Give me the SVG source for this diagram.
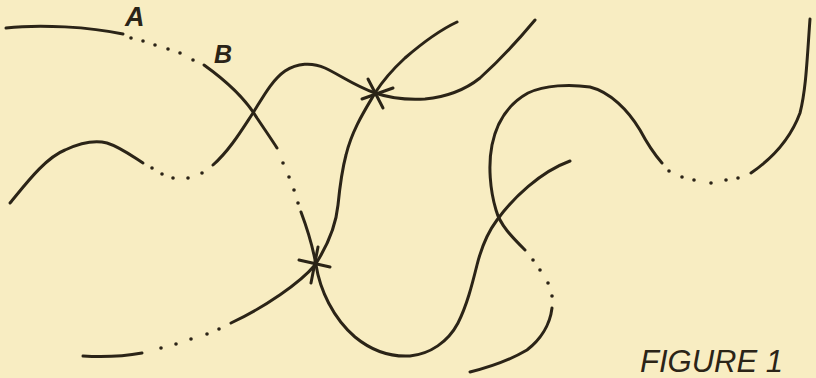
<svg xmlns="http://www.w3.org/2000/svg" width="816" height="378" viewBox="0 0 816 378">
<style>
.c{fill:none;stroke:#2b2417;stroke-width:3;stroke-linecap:round;stroke-linejoin:round}
.d{fill:#2b2417}
.t{fill:#2b2417;font-family:"Liberation Sans",Arial,sans-serif;font-style:italic;font-weight:bold}
.f{fill:#2b2417;font-family:"Liberation Sans",Arial,sans-serif;font-style:italic;font-weight:normal}
</style>
<rect width="816" height="378" fill="#f8edc2"/>
<g id="curveA">
<path class="c" d="M6,28 C40,24 90,27 123,34"/>
<g class="d"><circle cx="131" cy="38" r="1.8"/><circle cx="143" cy="41" r="1.8"/><circle cx="155" cy="45" r="1.8"/><circle cx="168" cy="49" r="1.8"/><circle cx="180" cy="53" r="1.8"/><circle cx="193" cy="60" r="1.8"/></g>
</g>
<g id="curveB">
<path class="c" d="M204,65 C225,80 245,98 257,118 C265,130 272,140 277,148"/>
<g class="d"><circle cx="283" cy="163" r="1.8"/><circle cx="289" cy="177" r="1.8"/><circle cx="294" cy="190" r="1.8"/><circle cx="298" cy="203" r="1.8"/></g>
<path class="c" d="M301,212 C307,228 313,248 316,265 C320,290 333,318 355,337 C372,351 392,357 410,356 C430,354 448,342 458,323 C467,305 472,285 477,265 C482,245 488,232 497,220 C513,198 540,172 570,161"/>
</g>
<g id="curveC">
<path class="c" d="M10,203 C25,185 45,158 65,150 C80,143 95,140 107,143 C120,147 132,156 143,163"/>
<g class="d"><circle cx="152" cy="168" r="1.8"/><circle cx="162" cy="174" r="1.8"/><circle cx="173" cy="178" r="1.8"/><circle cx="188" cy="178" r="1.8"/><circle cx="202" cy="173" r="1.8"/></g>
<path class="c" d="M213,165 C230,150 243,128 253,113 C263,97 272,80 285,71 C297,63 312,62 325,68 C340,75 355,86 375,93 C390,98 410,100 425,99 C445,97 465,90 480,78 C500,60 520,38 535,20"/>
</g>
<g id="curveE">
<path class="c" d="M457,22 C440,30 420,45 405,58 C392,70 382,82 375,93 C365,110 352,130 346,155 C342,170 340,185 338,205 C336,225 328,245 315,265 C300,283 265,307 231,323"/>
<g class="d"><circle cx="219" cy="329" r="1.8"/><circle cx="207" cy="334" r="1.8"/><circle cx="191" cy="339" r="1.8"/><circle cx="176" cy="344" r="1.8"/><circle cx="161" cy="348" r="1.8"/></g>
<path class="c" d="M142,353 C120,357 100,357 83,356"/>
</g>
<g id="curveD">
<path class="c" d="M525,250 C512,237 500,225 496,210 C490,190 488,165 492,145 C497,120 510,103 528,93 C545,85 570,84 590,87 C610,92 628,110 640,130 C648,145 655,155 662,163"/>
<g class="d"><circle cx="669" cy="171" r="1.8"/><circle cx="682" cy="177" r="1.8"/><circle cx="694" cy="180" r="1.8"/><circle cx="711" cy="183" r="1.8"/><circle cx="726" cy="180" r="1.8"/><circle cx="738" cy="178" r="1.8"/></g>
<path class="c" d="M751,173 C770,160 790,140 800,113 C806,90 807,60 810,19"/>
<g class="d"><circle cx="533" cy="260" r="1.8"/><circle cx="540" cy="270" r="1.8"/><circle cx="548" cy="283" r="1.8"/><circle cx="552" cy="296" r="1.8"/></g>
<path class="c" d="M552,308 C550,325 540,340 527,350 C510,360 490,367 470,372"/>
</g>
<g id="star-upper">
<path class="c" d="M368,79 L383,108 M362,99 L393,88"/>
</g>
<g id="star-lower">
<path class="c" d="M299,260 L330,267 M318,247 L311,283"/>
</g>
<g id="labels">
<text class="t" x="125" y="26" font-size="27">A</text>
<text class="t" x="214" y="63" font-size="25">B</text>
<text class="f" x="640" y="372" font-size="32" textLength="143" lengthAdjust="spacingAndGlyphs">FIGURE 1</text>
</g>
</svg>
